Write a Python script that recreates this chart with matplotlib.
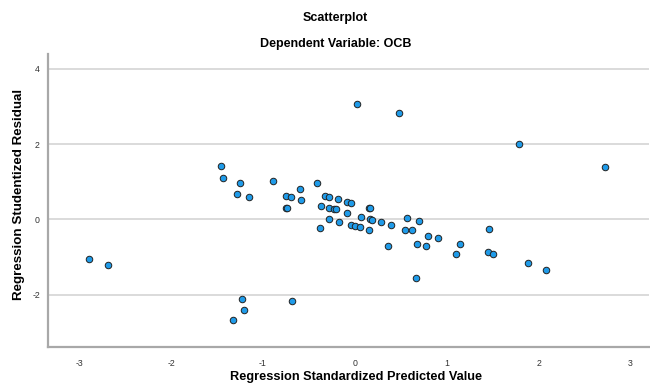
import matplotlib
matplotlib.use("Agg")
import matplotlib.pyplot as plt

plt.rcParams['font.family'] = ['Liberation Sans', 'DejaVu Sans']

title = "Scatterplot"
subtitle = "Dependent Variable: OCB"
x_label = "Regression Standardized Predicted Value"
y_label = "Regression Studentized Residual"

predicted = [-1.457, -1.432, -1.254, -1.283, -1.150, -0.886, -0.754, -0.691, -0.598, -0.587,
             -0.750, -0.740, -0.413, -0.321, -0.283, -0.368, -0.283, -0.225, -0.207, -0.283,
             -0.182, -0.087, -0.044, 0.149, 0.160, -0.087, 0.062, -0.177, 0.160, 0.185,
             0.286, 0.392, 0.566, 0.694, -0.377, -0.040, 0.000, 0.054, 0.149, 0.547,
             0.625, 1.454, 0.018, 0.482, 1.784, 2.722, 0.356, 0.671, 0.799, 0.772,
             0.903, 1.145, 1.098, 1.452, 1.503, 0.667, 1.885, 2.081, -2.893, -2.686,
             -1.226, -1.210, -1.330, -0.688]
residual = [1.41, 1.10, 0.97, 0.68, 0.59, 1.01, 0.63, 0.59, 0.81, 0.51,
            0.31, 0.31, 0.98, 0.62, 0.59, 0.35, 0.30, 0.27, 0.27, 0.00,
            0.53, 0.47, 0.44, 0.31, 0.31, 0.17, 0.07, -0.06, 0.01, -0.01,
            -0.07, -0.14, 0.04, -0.05, -0.23, -0.15, -0.18, -0.21, -0.27, -0.27,
            -0.29, -0.25, 3.07, 2.83, 2.00, 1.38, -0.72, -0.65, -0.43, -0.71,
            -0.50, -0.66, -0.93, -0.87, -0.92, -1.56, -1.17, -1.34, -1.06, -1.22,
            -2.12, -2.41, -2.67, -2.17]

x_ticks = [-3, -2, -1, 0, 1, 2, 3]
y_ticks = [-2, 0, 2, 4]

fig = plt.figure(figsize=(6.5, 3.84), dpi=100)
ax = fig.add_axes([0.0743, 0.0971, 0.9237, 0.762])

ax.scatter(predicted, residual, s=22, facecolor='#1f9be9', edgecolor='#222222',
           linewidth=0.7, zorder=3)

ax.set_xlim(-3.336, 3.197)
ax.set_ylim(-3.388, 4.396)
ax.set_xticks(x_ticks)
ax.set_yticks(y_ticks)
ax.set_xticklabels([str(v) for v in x_ticks])
ax.set_yticklabels([str(v) for v in y_ticks])
ax.tick_params(length=0, labelsize=6.3, colors='#333333', pad=9)
ax.tick_params(axis='y', pad=6)

ax.yaxis.grid(True, color='#d4d4d4', linewidth=1.2, zorder=0)
ax.xaxis.grid(False)
ax.set_axisbelow(True)

for s in ['top', 'right']:
    ax.spines[s].set_visible(False)
for s in ['left', 'bottom']:
    ax.spines[s].set_color('#a8a8a8')
    ax.spines[s].set_linewidth(1.6)

ax.set_ylabel(y_label, fontsize=9.6, fontweight='bold')
ax.yaxis.set_label_coords(-0.039, 0.52)
fig.text(356 / 650, 1 / 384, x_label, ha='center', va='bottom', fontsize=9.2, fontweight='bold')

fig.text(335.5 / 650, 1 - 18 / 384, title, ha='center', va='center', fontsize=9, fontweight='bold')
fig.text(335.5 / 650, 1 - 44 / 384, subtitle, ha='center', va='center', fontsize=9, fontweight='bold')

fig.savefig("out.png", dpi=100)
